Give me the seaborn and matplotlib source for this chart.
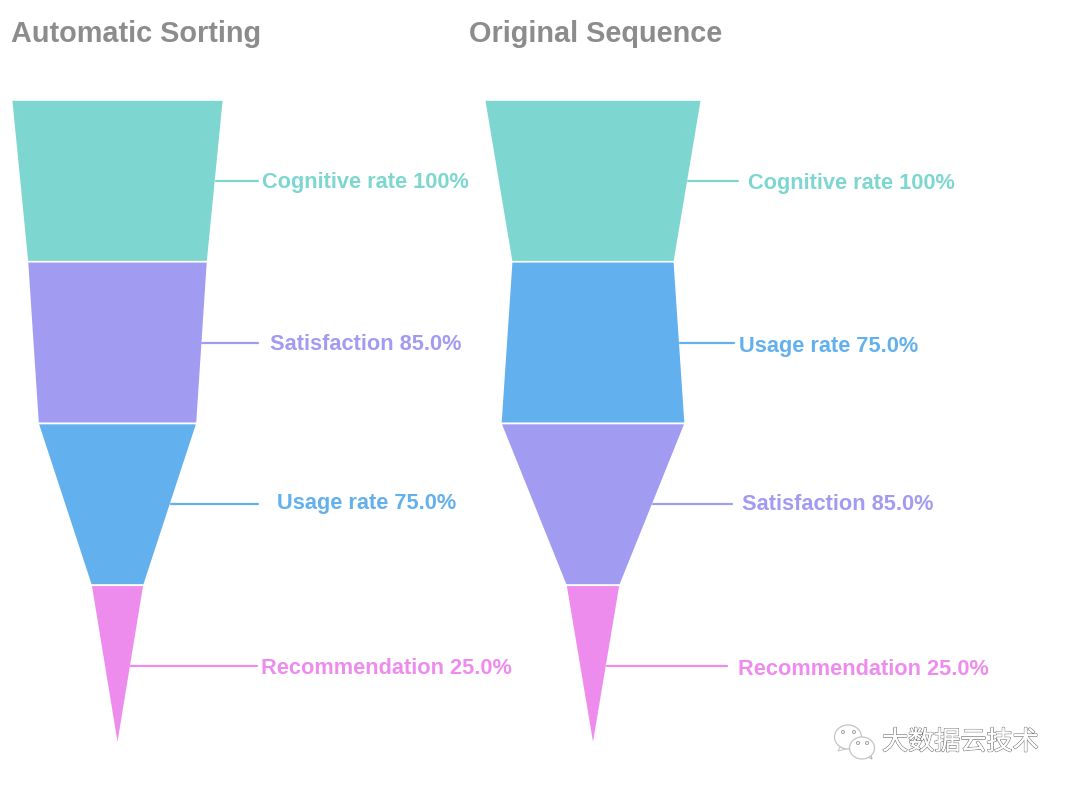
import matplotlib
matplotlib.use('Agg')
import matplotlib.pyplot as plt
import matplotlib.patheffects as pe
from matplotlib.patches import Ellipse, Polygon
import seaborn as sns

# dados do grafico
sorted_names = ['Cognitive rate', 'Satisfaction', 'Usage rate', 'Recommendation']
sorted_values = [100, 85, 75, 25]
sorted_labels = ['100%', '85.0%', '75.0%', '25.0%']
original_names = ['Cognitive rate', 'Usage rate', 'Satisfaction', 'Recommendation']
original_values = [100, 75, 85, 25]
original_labels = ['100%', '75.0%', '85.0%', '25.0%']
titles = ['Automatic Sorting', 'Original Sequence']
watermark = '大数据云技术'

colors = {
    'Cognitive rate': '#7dd6cf',
    'Satisfaction': '#a29bf2',
    'Usage rate': '#62b0ee',
    'Recommendation': '#ee8cee',
}

W, H = 1072, 790
TOP, BOTTOM = 100, 747


def funnel(fig, names, values, labels, title, left, right, center, scale, line_end, text_x, text_y):
    ax = fig.add_axes([left / W, 1 - BOTTOM / H, (right - left) / W, (BOTTOM - TOP) / H])
    ax.axis('off')
    row = (BOTTOM - TOP) / len(values)

    ends = values[1:] + [0]
    for i, (name, v, e, lab) in enumerate(zip(names, values, ends, labels)):
        color = colors[name]
        ax.fill([-v / 2, v / 2, e / 2, -e / 2], [i, i, i + 1, i + 1],
                facecolor=color, edgecolor='white', linewidth=1.2, clip_on=False)
        x0 = (v + e) / 4
        x1 = (line_end[i] - center) / scale
        sns.lineplot(x=[x0, x1], y=[i + 0.5, i + 0.5], color=color, linewidth=1.6, ax=ax)
        ax.text((text_x[i] - center) / scale, i + 0.5 + text_y[i] / row, f'{name} {lab}',
                color=color, fontsize=15.7, fontweight='bold', va='center', ha='left')
    # lineplot mexe nos limites, entao fixa no fim
    ax.set_xlim((left - center) / scale, (right - center) / scale)
    ax.set_ylim(len(values), 0)
    ax.set_title(title, loc='left', color='#8c8c8c', fontsize=20.8, fontweight='bold', pad=42)
    return ax


def main():
    sns.set_theme(style='white')
    plt.rcParams['font.family'] = ['Liberation Sans', 'DejaVu Sans']
    fig = plt.figure(figsize=(W / 100, H / 100), dpi=100, facecolor='white')

    funnel(fig, sorted_names, sorted_values, sorted_labels, titles[0],
           11, 460, 117.5, 2.12,
           [258, 258, 258, 257], [262, 270, 277, 261], [2, 2, -1, 2])
    funnel(fig, original_names, original_values, original_labels, titles[1],
           469, 1060, 593, 2.17,
           [738, 734, 732, 727], [748, 739, 742, 738], [3, 4, 0, 3])

    # marca d'agua
    stroke = [pe.withStroke(linewidth=1.0, foreground='#777777'), pe.Normal()]
    fig.text(882 / W, 1 - 742 / H, watermark, color='white', fontsize=18.8, va='center', ha='left',
             family=['Noto Sans CJK SC', 'DejaVu Sans'], path_effects=stroke)
    over = fig.add_axes([0, 0, 1, 1], facecolor='none')
    over.set_xlim(0, W)
    over.set_ylim(H, 0)
    over.axis('off')
    for cx, cy, w, h, z in [(848, 737, 27, 24, 5), (862, 748, 25, 22, 6)]:
        over.add_patch(Ellipse((cx, cy), w, h, facecolor='white', edgecolor='#c4c4c4', linewidth=0.9, zorder=z))
    over.add_patch(Polygon([[840, 747], [838, 751], [846, 749]], facecolor='white', edgecolor='#c4c4c4', linewidth=0.7, zorder=4))
    over.add_patch(Polygon([[868, 757], [872, 759], [871, 754]], facecolor='white', edgecolor='#b0b0b0', linewidth=0.7, zorder=5))
    for ex, ey, z in [(843, 732, 7), (854, 732, 7), (858, 743, 7), (867, 743, 7)]:
        over.add_patch(Ellipse((ex, ey), 3, 3, facecolor='white', edgecolor='#a0a0a0', linewidth=0.7, zorder=z))

    plt.savefig('out.png', dpi=100, facecolor='white')
    plt.close()


if __name__ == '__main__':
    main()
